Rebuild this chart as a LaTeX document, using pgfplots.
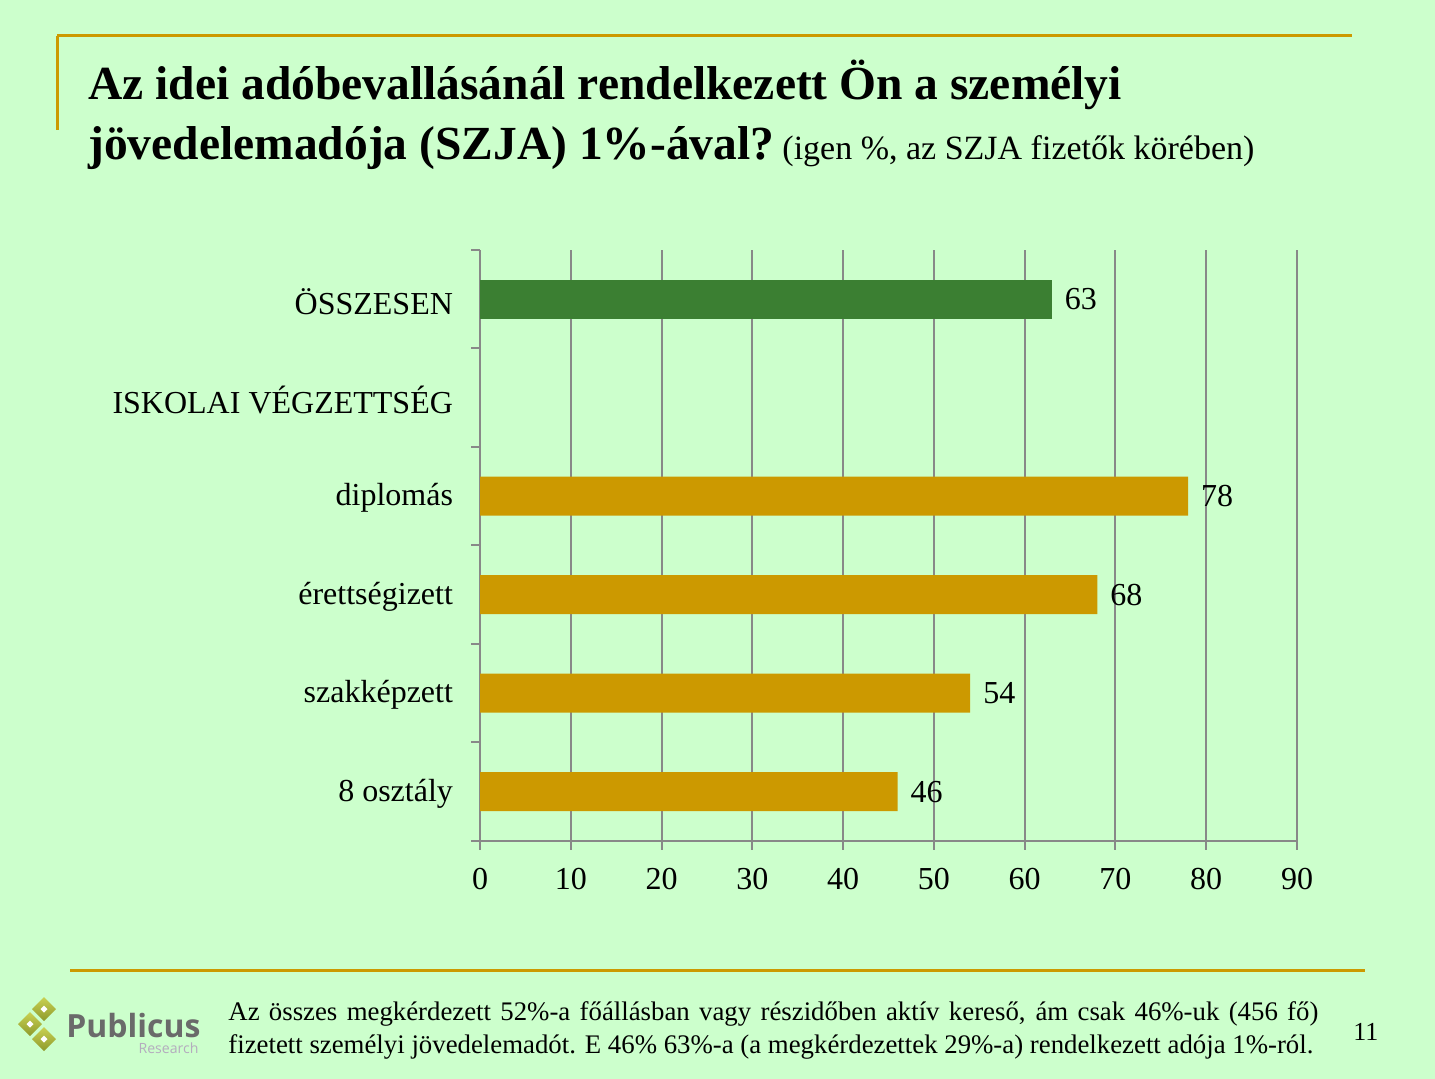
\documentclass[border=0pt]{standalone}
\usepackage{pgfplots}
\pgfplotsset{compat=1.18}
\usepackage{fontspec}
\setmainfont{Liberation Serif}
\newfontfamily\logofont{Open Sans}
\definecolor{bg}{HTML}{CCFFCC}
\definecolor{gold}{HTML}{CC9900}
\definecolor{bargreen}{HTML}{3B7F32}
\definecolor{gridgray}{HTML}{888888}
\definecolor{logogray}{HTML}{6A6A6A}
\definecolor{researchgray}{HTML}{B4ACBE}
\definecolor{oliveA}{HTML}{C9D152}
\definecolor{oliveB}{HTML}{8E9A2C}
\begin{document}
\begin{tikzpicture}
\begin{scope}[x=0.5pt,y=-0.5pt]
\fill[bg] (0,0) rectangle (1435,1079);
\draw[gold, line width=1.5pt] (57,36) -- (1352,36);
\draw[gold, line width=1.5pt] (57,36) -- (57,130);
\draw[gold, line width=1.5pt] (70,970) -- (1365,970);
\node[anchor=base west, inner sep=0] at (88,100) {\fontsize{23.75}{28}\selectfont\bfseries Az idei adóbevallásánál rendelkezett Ön a személyi};
\node[anchor=base west, inner sep=0] at (88,160) {\fontsize{23.75}{28}\selectfont\bfseries jövedelemadója (SZJA) 1\%-ával?\hspace{4pt}\mdseries\fontsize{17}{20}\selectfont(igen \%, az SZJA fizetők körében)};
\node[anchor=base west, inner sep=0] at (228,1020) {\fontsize{13.4}{16}\selectfont\makebox[545pt][s]{Az összes megkérdezett 52\%-a főállásban vagy részidőben aktív kereső, ám csak 46\%-uk (456 fő)}};
\node[anchor=base west, inner sep=0] at (228,1053) {\fontsize{13.4}{16}\selectfont fizetett személyi jövedelemadót. E 46\% 63\%-a (a megkérdezettek 29\%-a) rendelkezett adója 1\%-ról.};
\node[anchor=base west, inner sep=0] at (1353,1040) {\fontsize{13}{16}\selectfont 11};
% logo
\foreach \cx/\cy in {44/1009, 30/1024, 44/1039}{
  \shade[top color=oliveA, bottom color=oliveB] ({\cx},{\cy-12}) -- ({\cx+12},{\cy}) -- ({\cx},{\cy+12}) -- ({\cx-12},{\cy}) -- cycle;
  \fill[white] ({\cx},{\cy-3.5}) -- ({\cx+3.5},{\cy}) -- ({\cx},{\cy+3.5}) -- ({\cx-3.5},{\cy}) -- cycle;
}
\node[anchor=base west, inner sep=0, text=logogray] at (66,1037) {\resizebox{67pt}{!}{\logofont\bfseries Publicus}};
\node[anchor=base east, inner sep=0, text=researchgray] at (199,1053) {\resizebox{30pt}{!}{\logofont Research}};
\end{scope}
\begin{axis}[
  at={(240pt,-125pt)}, anchor=north west,
  width=408.5pt, height=295.5pt, scale only axis,
  xmin=0, xmax=90, ymin=-0.5, ymax=5.5,
  xbar, bar width=19.5pt,
  axis x line*=bottom, axis y line*=left,
  axis line style={gridgray, line width=1pt},
  xtick={0,10,...,90}, xmajorgrids, grid style={gridgray, line width=1pt},
  ytick={0,...,5},
  yticklabels={8 osztály, szakképzett, érettségizett, diplomás, ISKOLAI VÉGZETTSÉG, ÖSSZESEN},
  minor ytick={-0.5,0.5,...,5.5},
  tick align=outside, major tick length=4.5pt, minor tick length=4.5pt,
  major y tick style={draw=none},
  minor y tick style={gridgray, line width=1pt},
  major x tick style={gridgray, line width=1pt},
  /pgf/number format/assume math mode=true,
  tick label style={font=\fontsize{16}{19}\selectfont},
  yticklabel style={xshift=-5.5pt, yshift=-1pt},
  xticklabel style={yshift=-5.5pt},
  nodes near coords,
  nodes near coords style={font=\fontsize{16}{19}\selectfont, anchor=west, xshift=3pt, text=black},
]
\addplot[fill=bargreen, draw=none, bar shift=0pt] coordinates {(63,5)};
\addplot[fill=gold, draw=none, bar shift=0pt] coordinates {(78,3) (68,2) (54,1) (46,0)};
\end{axis}
\end{tikzpicture}
\end{document}
